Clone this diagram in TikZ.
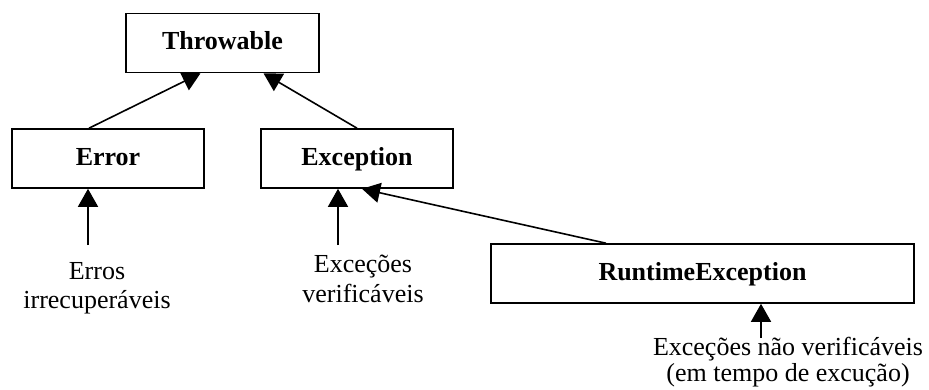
\documentclass[tikz,border=0pt]{standalone}
\usepackage{fontspec}
\setmainfont{Liberation Serif}
\usetikzlibrary{arrows.meta}
\begin{document}
\begin{tikzpicture}[x=1pt,y=-1pt,
  cls/.style={draw,line width=1.6pt,minimum height=59pt,inner sep=0pt,
    text height=19pt,text depth=6pt,
    font=\fontsize{26}{30}\selectfont\bfseries},
  note/.style={align=center,inner sep=0pt,anchor=base},
  inherit/.style={line width=1.6pt,-{Triangle[length=18pt,width=20pt]}}]
\useasboundingbox (0,0) rectangle (929,389);
% class boxes
\node[cls,minimum width=193pt] (thr) at (222.5,43) {Throwable};
\node[cls,minimum width=192pt] (err) at (108,158.5) {Error};
\node[cls,minimum width=192pt] (exc) at (357,158.5) {Exception};
\node[cls,minimum width=423pt] (rt)  at (702.5,273.5) {RuntimeException};
% explanatory notes (anchored at the baseline of the last line)
\node[note,font=\fontsize{26}{29}\selectfont] (nerr) at (97,308) {Erros\\irrecuperáveis};
\node[note,font=\fontsize{26}{30}\selectfont] (nexc) at (363,302) {Exceções\\verificáveis};
\node[note,font=\fontsize{26}{26}\selectfont] (nrt) at (788,381) {Exceções não verificáveis\\(em tempo de excução)};
% inheritance arrows
\draw[inherit] ([xshift=-19pt]err.north) -- ([xshift=-22pt]thr.south);
\draw[inherit] (exc.north) -- ([xshift=41pt]thr.south);
\draw[inherit] ([xshift=-96.5pt]rt.north) -- ([xshift=5pt]exc.south);
% note pointers
\coordinate (perr) at (88,245);
\coordinate (pexc) at (338,245);
\coordinate (prt) at (761,338);
\draw[inherit] (perr) -- (perr |- err.south);
\draw[inherit] (pexc) -- (pexc |- exc.south);
\draw[inherit] (prt) -- (prt |- rt.south);
\end{tikzpicture}
\end{document}
